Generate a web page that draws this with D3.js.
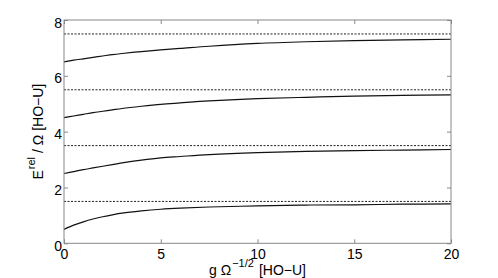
<!DOCTYPE html>
<html><head><meta charset="utf-8">
<script src="https://cdn.jsdelivr.net/npm/d3@7"></script>
<style>body{margin:0;background:#fff}svg{display:block;font-family:"Liberation Sans",Arial,sans-serif}</style>
</head><body><div id="chart"></div>
<script>
const xs = [0, 0.5, 1, 1.5, 2, 2.5, 3, 4, 5, 6, 7.5, 10, 12.5, 15, 17.5, 20];
const level0 = [0.50, 0.65, 0.77, 0.87, 0.95, 1.02, 1.08, 1.16, 1.22, 1.26, 1.30, 1.34, 1.37, 1.38, 1.40, 1.41];
const level1 = [2.50, 2.57, 2.64, 2.70, 2.76, 2.82, 2.88, 2.98, 3.06, 3.11, 3.18, 3.25, 3.29, 3.32, 3.34, 3.36];
const level2 = [4.50, 4.56, 4.62, 4.68, 4.73, 4.78, 4.83, 4.91, 4.98, 5.03, 5.10, 5.18, 5.23, 5.27, 5.30, 5.32];
const level3 = [6.50, 6.56, 6.61, 6.66, 6.71, 6.76, 6.80, 6.87, 6.93, 6.98, 7.06, 7.16, 7.22, 7.26, 7.29, 7.31];
const asymptotes = [1.5, 3.5, 5.5, 7.5];
const xTicks = [0, 5, 10, 15, 20];
const yTicks = [0, 2, 4, 6, 8];

const W = 498, H = 278;
const m = {l: 64, r: 47, t: 20, b: 34.7};
const svg = d3.select("#chart").append("svg").attr("width", W).attr("height", H);
const x = d3.scaleLinear().domain([0, 20]).range([m.l, W - m.r]);
const y = d3.scaleLinear().domain([0, 8]).range([H - m.b, m.t]);
const axisColor = "#888";

// asymptotes (dotted)
svg.append("g").selectAll("line").data(asymptotes).join("line")
  .attr("x1", x(0)).attr("x2", x(20))
  .attr("y1", d => y(d)).attr("y2", d => y(d))
  .attr("stroke", "#222").attr("stroke-width", 1).attr("stroke-dasharray", "2,1.5");

// curves
const line = d3.line().x(d => x(d[0])).y(d => y(d[1])).curve(d3.curveCatmullRom.alpha(0.5));
[level0, level1, level2, level3].forEach(vals => {
  svg.append("path").datum(xs.map((xv, i) => [xv, vals[i]]))
    .attr("d", line).attr("fill", "none").attr("stroke", "#111").attr("stroke-width", 1.2);
});

// axes
const styleAxis = g => {
  g.select(".domain").remove();
  g.selectAll(".tick line").attr("stroke", axisColor);
  g.selectAll(".tick text").attr("fill", "#000").attr("font-size", 14);
};
svg.append("g").attr("transform", `translate(0,${y(0)})`)
  .call(d3.axisBottom(x).tickValues(xTicks).tickSize(-4).tickPadding(4))
  .call(styleAxis).call(g => g.selectAll(".tick text").attr("dy", "0.85em"));
svg.append("g").attr("transform", `translate(0,${y(8)})`)
  .call(d3.axisTop(x).tickValues(xTicks).tickSize(-4).tickFormat(""))
  .call(styleAxis);
svg.append("g").attr("transform", `translate(${x(0)},0)`)
  .call(d3.axisLeft(y).tickValues(yTicks).tickSize(-4).tickPadding(2))
  .call(styleAxis).call(g => g.selectAll(".tick text").attr("dy", "0.5em"));
svg.append("g").attr("transform", `translate(${x(20)},0)`)
  .call(d3.axisRight(y).tickValues(yTicks).tickSize(-4).tickFormat(""))
  .call(styleAxis);

// box
svg.append("rect").attr("x", x(0)).attr("y", y(8))
  .attr("width", x(20) - x(0)).attr("height", y(0) - y(8))
  .attr("fill", "none").attr("stroke", axisColor).attr("stroke-width", 1);

// x label
const xl = svg.append("text").attr("x", (x(0) + x(20)) / 2).attr("y", 274.5)
  .attr("text-anchor", "middle").attr("font-size", 14).attr("fill", "#000");
xl.append("tspan").text("g Ω");
xl.append("tspan").attr("dx", 1).attr("dy", -8).attr("font-size", 11).text("−1/2");
xl.append("tspan").attr("dx", 5).attr("dy", 8).text("[HO−U]");

// y label
const yl = svg.append("text")
  .attr("transform", `translate(43,${(y(0) + y(8)) / 2}) rotate(-90)`)
  .attr("text-anchor", "middle").attr("font-size", 14).attr("fill", "#000");
yl.append("tspan").text("E");
yl.append("tspan").attr("dx", 1).attr("dy", -8).attr("font-size", 11).text("rel");
yl.append("tspan").attr("dx", 4).attr("dy", 8).text("/ Ω [HO−U]");
</script></body></html>
